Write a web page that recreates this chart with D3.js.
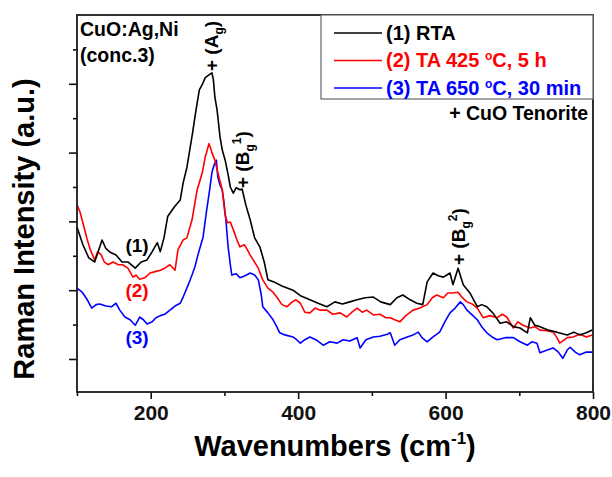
<!DOCTYPE html>
<html>
<head>
<meta charset="utf-8">
<script src="https://cdn.jsdelivr.net/npm/d3@7"></script>
<style>
  body { margin: 0; background: #fff; }
  text { font-family: "Liberation Sans", Arial, sans-serif; font-weight: bold; }
</style>
</head>
<body>
<div id="chart"></div>
<script>
// Raman spectra, wavenumber (cm-1) vs intensity (a.u.)
const rtaX = [100,108,116,124,134,139,145,153,161,169,179,187,195,202,209,213,218,223,232,240,244,249,253,257,260,263,266,270,274,279,283,285,287,290,294,297,301,305,308,312,316,321,324,329,335,341,348,354,359,369,378,393,403,416,427,439,450,460,470,480,491,502,512,525,534,542,552,561,569,575,583,590,597,606,610,617,624,633,643,649,656,664,674,683,692,701,711,715,721,728,739,751,765,774,782,791,799];
const rtaY = [192,166,147,141,173,161,155,151,141,141,132,141,144,156,169,156,176,207,221,231,256,278,304,330,352,372,391,399,409,413,416,406,381,362,323,304,289,268,250,241,249,246,247,224,202,176,163,141,115,111,106,100,92,86,81,76,83,80,83,86,89,90,83,79,89,93,86,81,79,112,125,121,119,125,108,132,108,96,76,79,76,67,52,54,47,45,38,60,49,47,42,39,35,39,35,38,42];

const ta425X = [100,104,108,114,118,124,128,133,137,142,149,156,162,169,176,180,185,192,199,206,213,219,226,233,237,244,249,256,263,267,270,274,276,279,282,283,287,291,297,301,304,308,312,317,321,327,331,335,339,346,352,359,366,371,378,385,392,397,403,409,416,423,430,439,447,457,466,473,480,487,493,502,511,519,525,531,538,546,556,565,575,582,588,597,603,609,617,622,629,636,643,651,660,670,677,683,692,698,705,715,721,728,738,746,751,755,765,773,782,791,799];
const ta425Y = [224,214,198,173,159,144,156,151,141,137,141,137,137,132,119,122,116,118,125,127,129,132,137,129,159,173,176,202,246,260,271,294,301,313,304,300,289,271,246,209,198,199,188,173,163,166,159,151,144,132,115,103,97,90,79,76,83,86,81,68,67,74,71,71,65,67,61,68,74,68,71,64,65,60,60,57,54,63,71,74,79,89,93,89,96,96,97,90,83,80,74,60,63,60,65,61,45,54,49,45,47,42,41,39,31,23,31,32,36,32,35];

const ta650X = [100,107,114,120,126,131,139,147,153,158,165,172,179,183,185,190,195,202,207,213,219,226,233,240,244,251,256,260,264,268,271,276,280,283,286,289,291,294,297,299,302,305,308,310,316,321,328,335,341,346,350,352,359,366,371,375,382,393,398,403,409,416,424,434,443,453,461,470,480,484,492,502,511,521,525,531,538,548,556,563,568,575,583,592,599,606,613,620,624,629,636,643,649,656,663,670,681,692,701,711,717,724,728,738,746,753,759,765,769,776,782,791,799];
const ta650Y = [103,97,86,74,79,80,77,76,81,71,61,57,49,57,61,57,51,54,60,63,65,71,77,81,90,108,122,134,151,166,177,217,246,271,282,289,265,253,246,231,202,163,137,122,124,118,121,125,122,115,93,76,67,57,47,38,35,32,28,23,28,32,28,20,25,23,28,26,31,16,28,32,33,36,38,20,28,32,35,39,31,25,32,39,54,67,74,83,79,71,64,57,47,38,32,28,31,31,25,20,25,23,9,13,16,10,1,13,17,10,6,10,10];

const seriesNames = ['(1) RTA', '(2) TA 425 \u00b0C, 5 h', '(3) TA 650 \u00b0C, 30 min'];
const seriesColors = ['#000000', '#ff0000', '#0000ff'];
const curveTags = ['(1)', '(2)', '(3)'];
const xTicks = [200, 400, 600, 800];
const xMinor = [100, 300, 500, 700];
const yTicks = [0, 100, 200, 300, 400];
const yMinor = [50, 150, 250, 350, 450];

const width = 612;
const height = 477;
const margin = { top: 15, right: 19, bottom: 85, left: 77 };

const svg = d3.select('#chart')
              .append('svg')
              .attr('width', width)
              .attr('height', height);

const x = d3.scaleLinear().domain([100, 800]).range([margin.left, width - margin.right]);
const y = d3.scaleLinear().domain([-48, 500]).range([height - margin.bottom, margin.top]);

const series = [
  { name: seriesNames[0], color: seriesColors[0], xs: rtaX, ys: rtaY },
  { name: seriesNames[1], color: seriesColors[1], xs: ta425X, ys: ta425Y },
  { name: seriesNames[2], color: seriesColors[2], xs: ta650X, ys: ta650Y }
];

const line = d3.line()
               .x((d) => x(d[0]))
               .y((d) => y(d[1]));

// draw in reverse so black sits on top
series.slice().reverse().forEach((s) => {
  svg.append('path')
     .datum(s.xs.map((v, i) => [v, s.ys[i]]))
     .attr('fill', 'none')
     .attr('stroke', s.color)
     .attr('stroke-width', 1.6)
     .attr('stroke-linejoin', 'round')
     .attr('d', line);
});

// axes
const xAxis = svg.append('g')
                 .attr('transform', 'translate(0,' + y(-48) + ')')
                 .call(d3.axisBottom(x).tickValues(xTicks).tickSize(7).tickPadding(6));
svg.append('g')
   .attr('transform', 'translate(0,' + y(-48) + ')')
   .call(d3.axisBottom(x).tickValues(xMinor).tickSize(4).tickFormat(''));

svg.append('g')
   .attr('transform', 'translate(' + x(100) + ',0)')
   .call(d3.axisLeft(y).tickValues(yTicks).tickSize(8).tickFormat(''));
svg.append('g')
   .attr('transform', 'translate(' + x(100) + ',0)')
   .call(d3.axisLeft(y).tickValues(yMinor).tickSize(4).tickFormat(''));

svg.selectAll('.domain').remove();
svg.selectAll('.tick line').attr('stroke', '#111').attr('stroke-width', 1.6);
xAxis.selectAll('.tick text')
     .style('font-size', '21px')
     .attr('fill', '#111');

// frame
svg.append('rect')
   .attr('x', x(100))
   .attr('y', y(500))
   .attr('width', x(800) - x(100))
   .attr('height', y(-48) - y(500))
   .attr('fill', 'none')
   .attr('stroke', '#1a1a1a')
   .attr('stroke-width', 1.8);

// axis titles
const xt = svg.append('text')
              .attr('x', 335)
              .attr('y', 456)
              .attr('text-anchor', 'middle')
              .style('font-size', '29px')
              .text('Wavenumbers (cm');
xt.append('tspan').attr('dy', -12).style('font-size', '17px').text('-1');
xt.append('tspan').attr('dy', 12).text(')');

svg.append('text')
   .attr('transform', 'translate(34,229) rotate(-90)')
   .attr('text-anchor', 'middle')
   .style('font-size', '29px')
   .text('Raman Intensity (a.u.)');

// sample label
svg.append('text').attr('x', 80).attr('y', 36).style('font-size', '19.5px').text('CuO:Ag,Ni');
svg.append('text').attr('x', 80).attr('y', 62).style('font-size', '19.5px').text('(conc.3)');

// legend
svg.append('rect')
   .attr('x', 321)
   .attr('y', y(500))
   .attr('width', x(800) - 321)
   .attr('height', 99 - y(500))
   .attr('fill', 'white')
   .attr('stroke', '#666')
   .attr('stroke-width', 1.2);

series.forEach((s, i) => {
  const ly = 33 + i * 27.5;
  svg.append('line')
     .attr('x1', 334).attr('x2', 382)
     .attr('y1', ly).attr('y2', ly)
     .attr('stroke', s.color)
     .attr('stroke-width', 1.6);
  const t = svg.append('text')
               .attr('x', 386)
               .attr('y', ly + 6.5)
               .attr('fill', s.color)
               .style('font-size', '20px');
  if (i === 0) {
    t.text(s.name);
  } else {
    const parts = s.name.split('\u00b0');
    t.append('tspan').text(parts[0]);
    t.append('tspan').attr('dy', -7).style('font-size', '12px').text('o');
    t.append('tspan').attr('dy', 7).text(parts[1]);
  }
});

svg.append('text')
   .attr('x', 588)
   .attr('y', 120)
   .attr('text-anchor', 'end')
   .style('font-size', '19.5px')
   .text('+ CuO Tenorite');

// curve tags
curveTags.forEach((tag, i) => {
  svg.append('text')
     .attr('x', 137)
     .attr('y', [252, 297, 344][i])
     .attr('text-anchor', 'middle')
     .attr('fill', seriesColors[i])
     .style('font-size', '19px')
     .text(tag);
});

// peak markers
const peaks = [
  { wn: 283, sub: 'g', sup: '', px: 218, py: 71 },
  { wn: 324, sub: 'g', sup: '1', px: 249, py: 188 },
  { wn: 617, sub: 'g', sup: '2', px: 465, py: 265 }
];
peaks.forEach((p, i) => {
  const t = svg.append('text')
               .attr('transform', 'translate(' + p.px + ',' + p.py + ') rotate(-90)')
               .style('font-size', '19px');
  t.append('tspan').text(i === 0 ? '+ (A' : '+ (B');
  t.append('tspan').attr('dy', 5).style('font-size', '12px').text(p.sub);
  if (p.sup) {
    t.append('tspan').attr('dy', -13).style('font-size', '12px').text(p.sup);
    t.append('tspan').attr('dy', 8).text(')');
  } else {
    t.append('tspan').attr('dy', -5).text(')');
  }
});
</script>
</body>
</html>
